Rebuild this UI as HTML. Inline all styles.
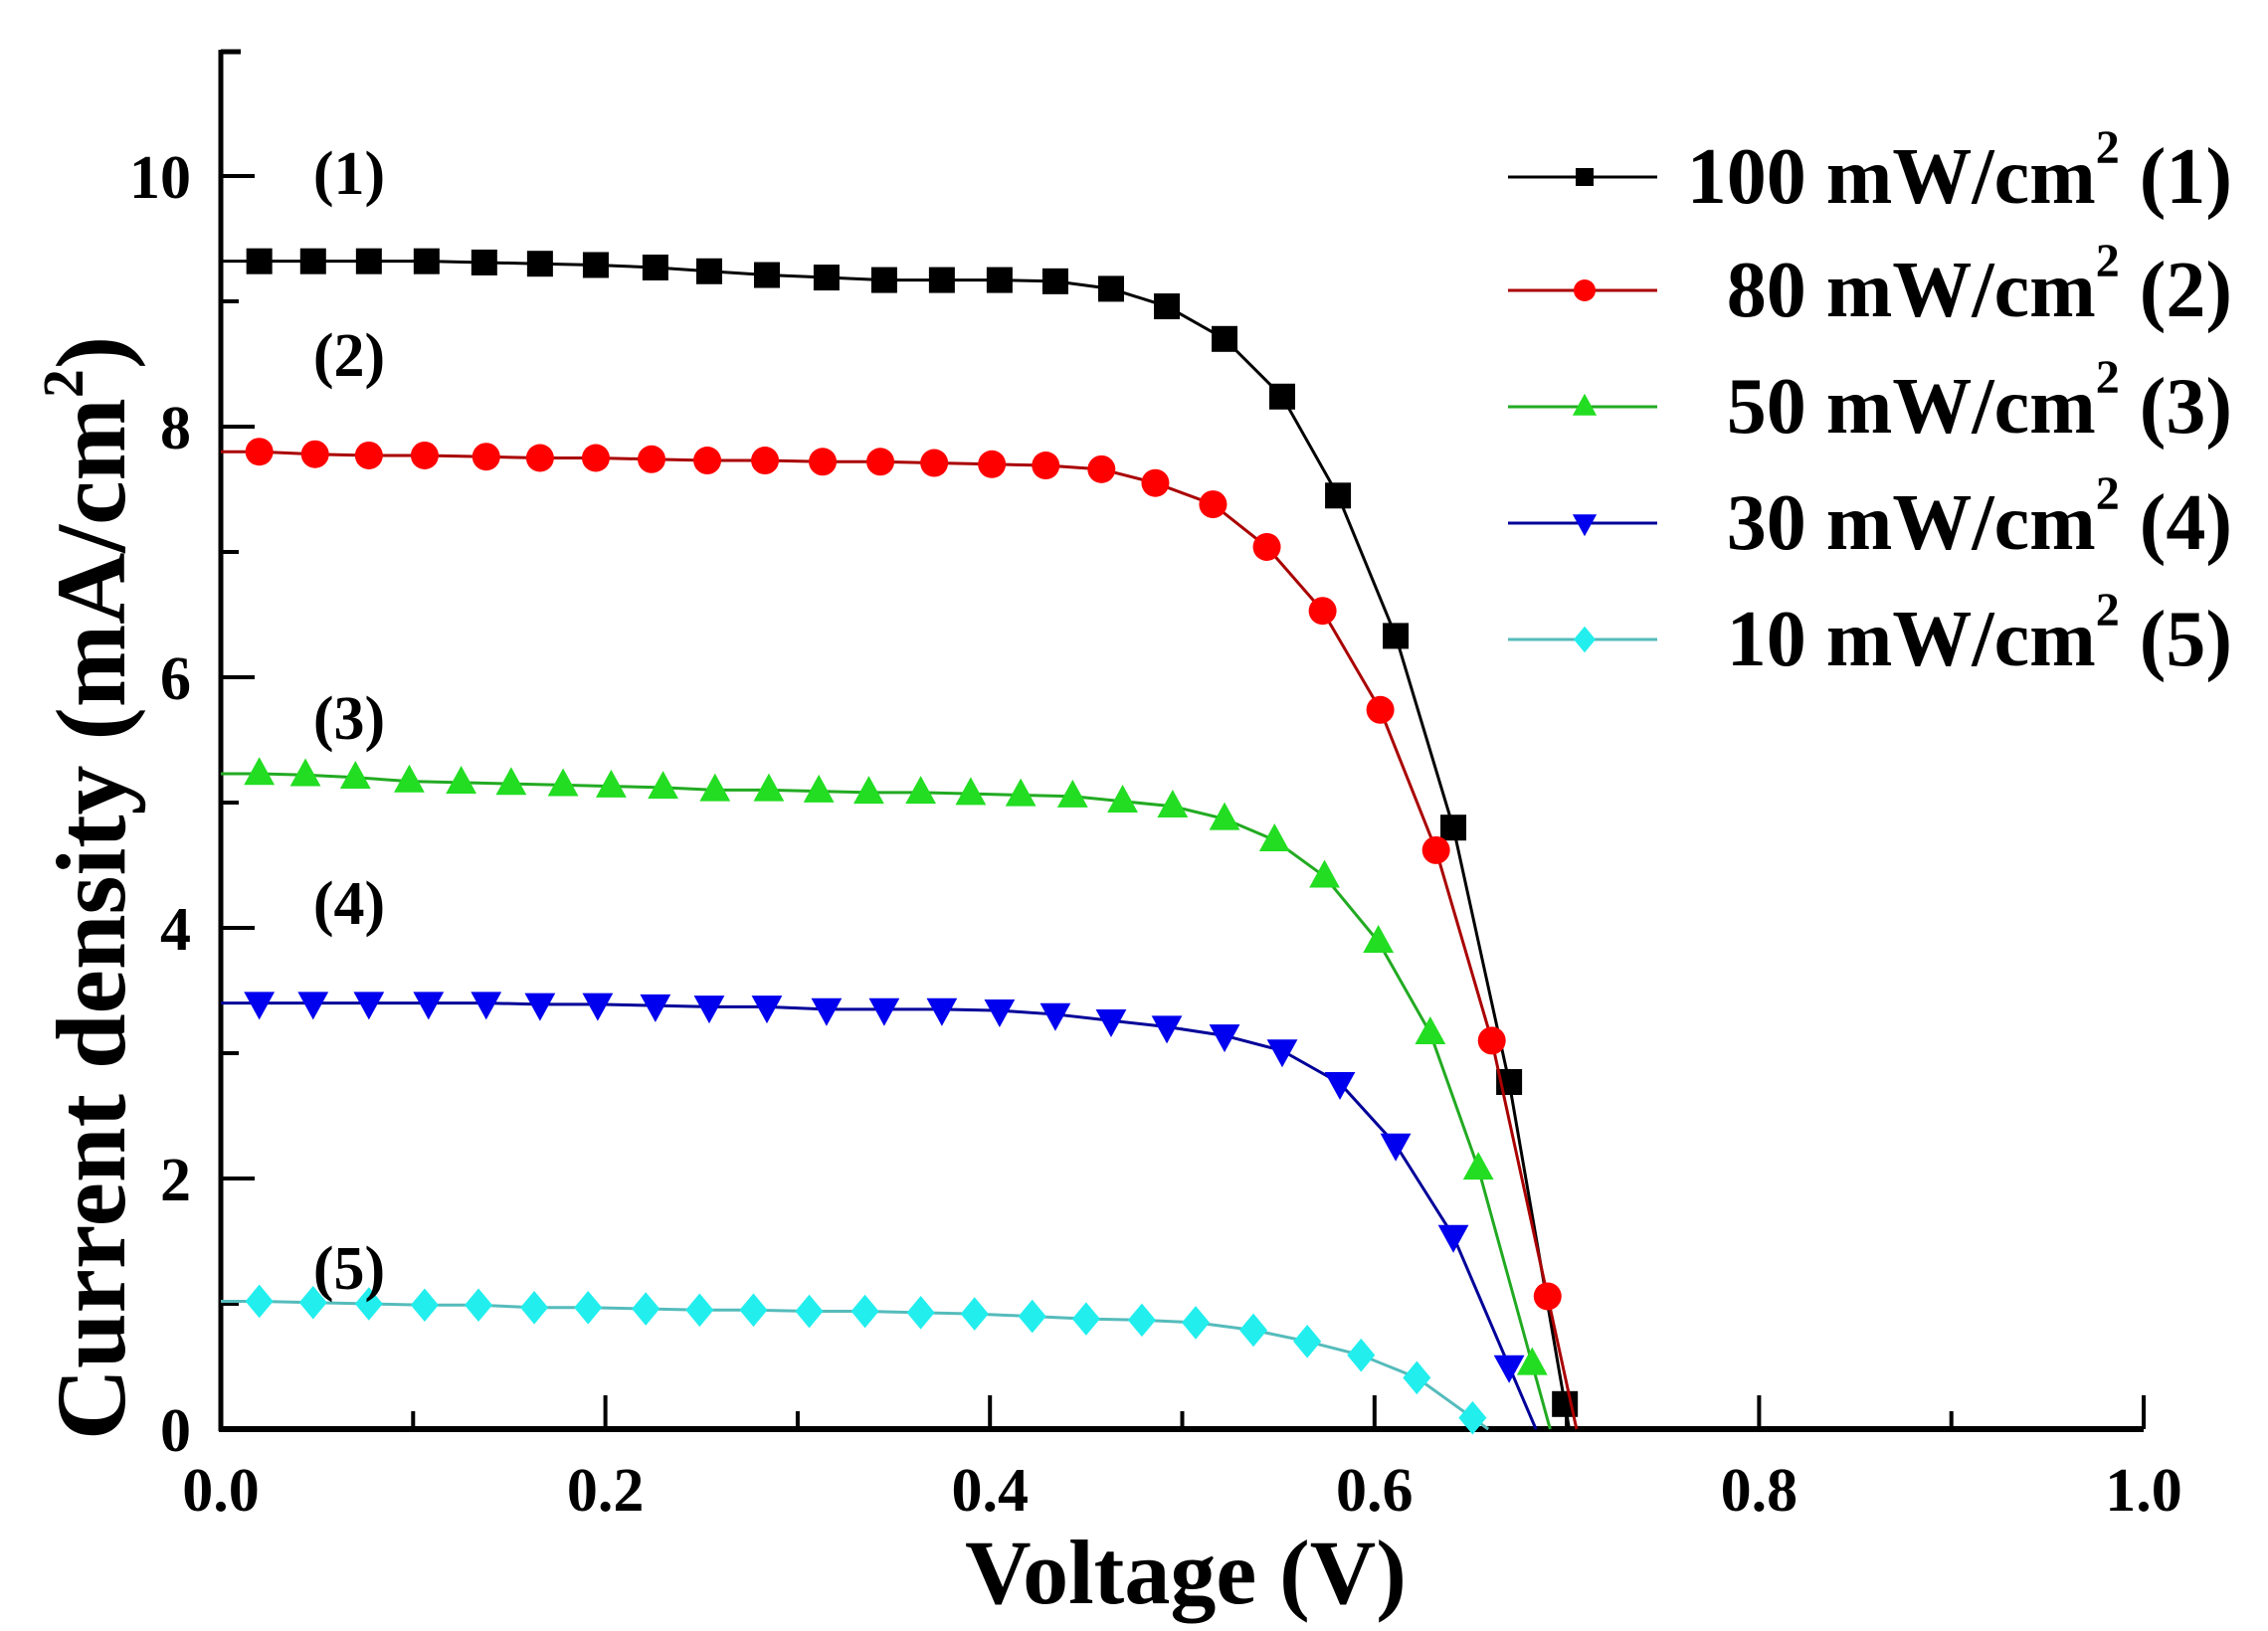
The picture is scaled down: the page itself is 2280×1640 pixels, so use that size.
<!DOCTYPE html>
<html><head><meta charset="utf-8"><style>
html,body{margin:0;padding:0;background:#fff;}
svg{display:block;font-family:"Liberation Serif",serif;font-weight:bold;}
</style></head><body>
<svg id="chart" width="2280" height="1640" viewBox="0 0 2280 1640" xmlns="http://www.w3.org/2000/svg">
<g id="axes"></g>
<g id="series"></g>
<g id="legend"></g>
<text x="1192" y="1612" font-size="92" text-anchor="middle">Voltage (V)</text>
<text transform="translate(125,893) rotate(-90)" font-size="100" text-anchor="middle">Current density (mA/cm<tspan font-size="58" dy="-42">2</tspan><tspan dy="42">)</tspan></text>
</svg>
<script>
const v1=[0.02,0.048,0.077,0.107,0.137,0.166,0.195,0.226,0.254,0.284,0.315,0.345,0.375,0.405,0.434,0.463,0.492,0.522,0.552,0.581,0.611,0.641,0.67,0.699];
const j1=[9.32,9.32,9.32,9.32,9.31,9.3,9.29,9.27,9.24,9.21,9.19,9.17,9.17,9.17,9.16,9.1,8.96,8.7,8.24,7.45,6.33,4.8,2.77,0.2];
const v2=[0.02,0.049,0.077,0.106,0.138,0.166,0.195,0.224,0.253,0.283,0.313,0.343,0.371,0.401,0.429,0.458,0.486,0.516,0.544,0.573,0.603,0.632,0.661,0.69];
const j2=[7.8,7.78,7.77,7.77,7.76,7.75,7.75,7.74,7.73,7.73,7.72,7.72,7.71,7.7,7.69,7.66,7.55,7.38,7.04,6.53,5.74,4.62,3.1,1.06];
const v3=[0.02,0.044,0.07,0.098,0.125,0.151,0.178,0.203,0.23,0.257,0.285,0.311,0.337,0.364,0.39,0.416,0.443,0.469,0.495,0.522,0.548,0.574,0.602,0.629,0.654,0.682];
const j3=[5.23,5.22,5.2,5.17,5.16,5.15,5.14,5.13,5.12,5.1,5.1,5.09,5.08,5.08,5.07,5.06,5.05,5.01,4.97,4.87,4.7,4.41,3.89,3.16,2.08,0.52];
const v4=[0.02,0.048,0.077,0.108,0.138,0.166,0.196,0.226,0.254,0.284,0.315,0.345,0.375,0.405,0.434,0.463,0.492,0.522,0.552,0.582,0.611,0.641,0.67];
const j4=[3.4,3.4,3.4,3.4,3.4,3.39,3.39,3.38,3.37,3.37,3.35,3.35,3.35,3.34,3.31,3.26,3.21,3.14,3.02,2.76,2.27,1.54,0.5];
const v5=[0.02,0.048,0.077,0.106,0.134,0.163,0.191,0.221,0.249,0.277,0.306,0.335,0.364,0.392,0.422,0.45,0.479,0.507,0.537,0.565,0.593,0.622,0.651];
const j5=[1.02,1.01,1.0,0.99,0.99,0.97,0.97,0.96,0.95,0.95,0.94,0.94,0.93,0.92,0.9,0.88,0.87,0.85,0.79,0.7,0.59,0.41,0.09];
const seriesNames=["100 mW/cm","80 mW/cm","50 mW/cm","30 mW/cm","10 mW/cm"];
const curveLabels=["(1)","(2)","(3)","(4)","(5)"];
const xTicks=[0,0.2,0.4,0.6,0.8,1.0];
const xTickLabels=["0.0","0.2","0.4","0.6","0.8","1.0"];
const yTicks=[0,2,4,6,8,10];
const yTickLabels=["0","2","4","6","8","10"];

const NS="http://www.w3.org/2000/svg";
const X0=222,X1=2155,Y0=1437,Y10=177;
const xs=v=>X0+(X1-X0)*v;
const ys=j=>Y0-(Y0-Y10)*j/10;
function mk(tag,attrs,parent){const e=document.createElementNS(NS,tag);for(const k in attrs)e.setAttribute(k,attrs[k]);parent.appendChild(e);return e;}
const axes=document.getElementById('axes');
let e;
e=mk('line',{x1:X0,y1:50,x2:X0,y2:Y0+2,stroke:'#000','stroke-width':5},axes);


e=mk('line',{x1:X0-2,y1:Y0,x2:X1,y2:Y0,stroke:'#000','stroke-width':6},axes);


mk('line',{x1:X0,y1:52,x2:X0+20,y2:52,stroke:'#000','stroke-width':5},axes);
for(let i=0;i<=10;i++){
  const v=i/10,maj=i%2===0;
  e=mk('line',{x1:xs(v),y1:Y0,x2:xs(v),y2:Y0-(maj?34:18),stroke:'#000','stroke-width':4},axes);
  
  
}
for(let i=0;i<=10;i++){
  const maj=i%2===0;
  e=mk('line',{x1:X0,y1:ys(i),x2:X0+(maj?34:18),y2:ys(i),stroke:'#000','stroke-width':4},axes);
  
  
}
xTicks.forEach((v,i)=>{
  e=mk('text',{x:xs(v),y:Y0+82,'font-size':62,'text-anchor':'middle'},axes);
  e.textContent=xTickLabels[i];
  
  
});
yTicks.forEach((v,i)=>{
  e=mk('text',{x:X0-30,y:ys(v)+22,'font-size':62,'text-anchor':'end'},axes);
  e.textContent=yTickLabels[i];
  
  
});
const colors=['#000000','#ff0000','#22dd22','#0000ee','#22eeee'];
const lineColors=['#000000','#aa0000','#22aa22','#000099','#55bbbb'];
const shapes=['square','circle','tri','dtri','diamond'];
const Vs=[v1,v2,v3,v4,v5],Js=[j1,j2,j3,j4,j5];
function marker(shape,x,y,c,s,parent){
  if(shape==='square')return mk('rect',{x:x-s,y:y-s,width:2*s,height:2*s,fill:c},parent);
  if(shape==='circle')return mk('circle',{cx:x,cy:y,r:s,fill:c},parent);
  if(shape==='tri')return mk('polygon',{points:`${x},${y-s*1.2} ${x-s*1.1},${y+s*0.8} ${x+s*1.1},${y+s*0.8}`,fill:c},parent);
  if(shape==='dtri')return mk('polygon',{points:`${x},${y+s*1.2} ${x-s*1.1},${y-s*0.8} ${x+s*1.1},${y-s*0.8}`,fill:c},parent);
  return mk('polygon',{points:`${x},${y-s*1.2} ${x+s},${y} ${x},${y+s*1.2} ${x-s},${y}`,fill:c},parent);
}
const sg=document.getElementById('series');
const labelY=[175,358,723,909,1276];
for(let k=0;k<5;k++){
  const g=mk('g',{},sg);
  
  
  const V=Vs[k],J=Js[k];
  let pts=V.map((v,i)=>xs(v)+','+ys(J[i]));
  const n=V.length,dv=V[n-1]-V[n-2],dj=J[n-1]-J[n-2];
  if(dj<0){const vz=V[n-1]-J[n-1]*dv/dj;pts.push(xs(vz)+','+ys(0));}
  pts.unshift(X0+','+ys(J[0]));
  e=mk('polyline',{points:pts.join(' '),fill:'none',stroke:lineColors[k],'stroke-width':3},g);
  
  
  V.forEach((v,i)=>{
    e=marker(shapes[k],xs(v),ys(J[i]),colors[k],shapes[k]==='square'?13:14,g);
    
    
  });
  e=mk('text',{x:351,y:labelY[k]+20,'font-size':62,'text-anchor':'middle'},sg);
  e.textContent=curveLabels[k];
  
  
}
const lg=document.getElementById('legend');
const legY=[178,292,409,526,643];
for(let k=0;k<5;k++){
  const g=mk('g',{},lg);
  
  
  mk('line',{x1:1516,y1:legY[k],x2:1666,y2:legY[k],stroke:lineColors[k],'stroke-width':3},g);
  marker(shapes[k],1593,legY[k],colors[k],shapes[k]==='square'?9:11,g);
  const t=mk('text',{x:2244,y:legY[k]+26,'font-size':80,'text-anchor':'end'},g);
  t.innerHTML=seriesNames[k]+'<tspan font-size="48" dy="-40">2</tspan><tspan dy="40"> '+curveLabels[k]+'</tspan>';
}
</script>
</body></html>
